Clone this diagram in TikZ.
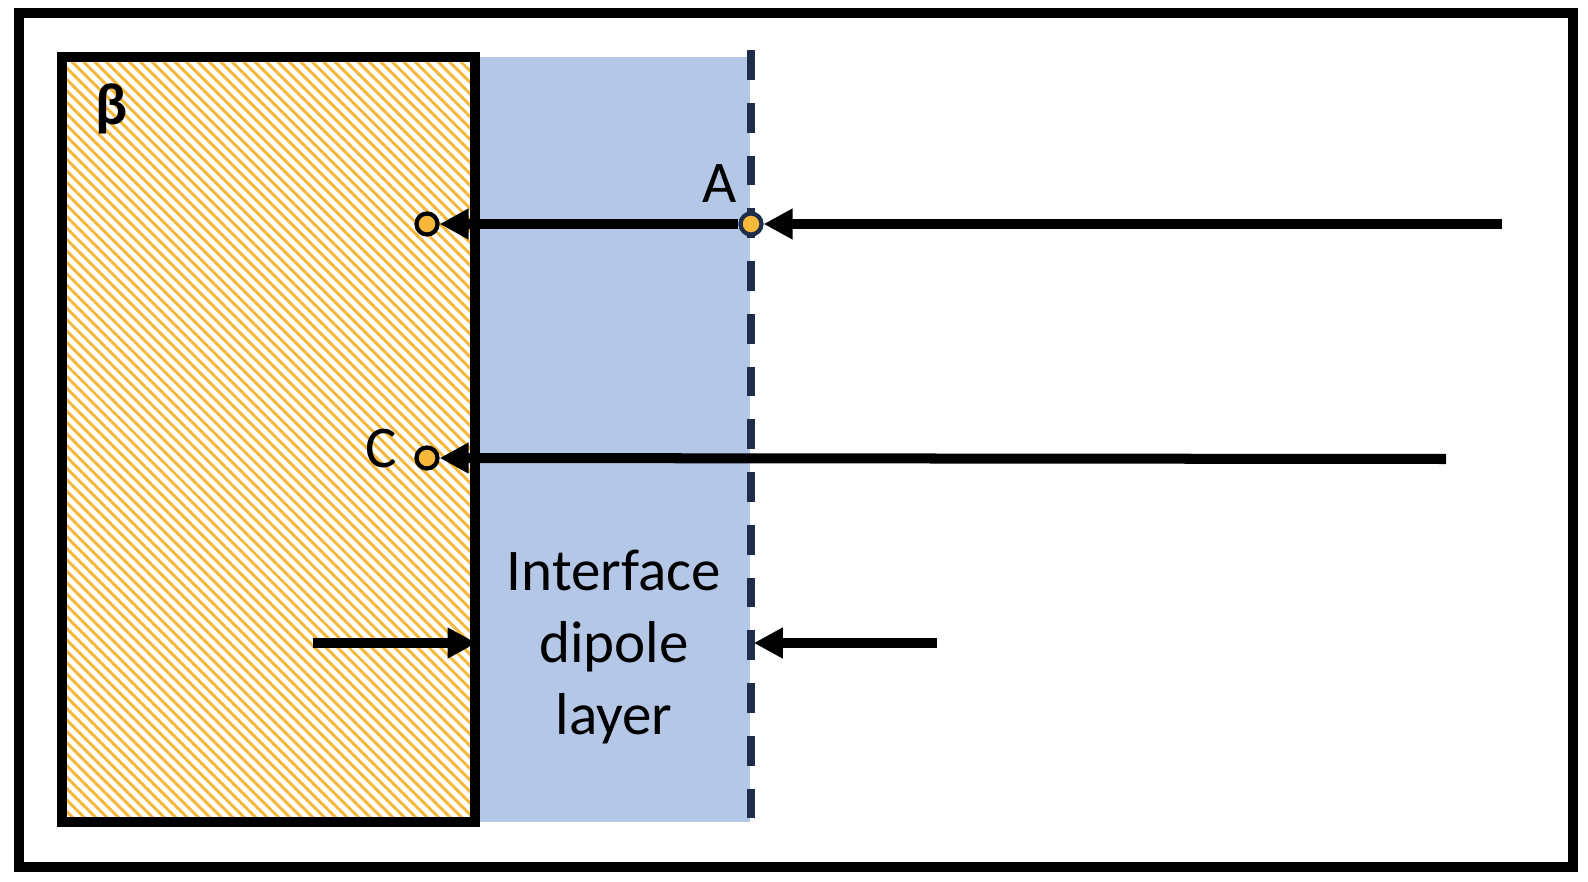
\documentclass[tikz,border=0pt]{standalone}
\usepackage{fontspec}
\setmainfont{Carlito}
\usetikzlibrary{positioning,arrows.meta,patterns.meta}
\definecolor{layerblue}{HTML}{B4C7E7}
\definecolor{hatchgold}{HTML}{F5B83A}
\definecolor{dashnavy}{HTML}{1F2D4A}

\begin{document}
\begin{tikzpicture}[x = .01cm, y = -.01cm,
    arr/.style = {line width = .1cm, -{Triangle[length = .29cm, width = .29cm]}},
    dot/.style = {circle, draw = black, fill = hatchgold, line width = 1.2pt, minimum size = .21cm, inner sep = 0pt},
    lbl/.style = {font = \fontsize{16.8}{20.5}\selectfont, inner sep = 0pt}]
    \useasboundingbox (0,0) rectangle (1588,882);
    \draw[line width = .1cm] (19,13) rectangle (1573,867);
    \node[fill = layerblue, minimum width = 2.75cm, minimum height = 7.65cm, inner sep = 0pt] (layer) at (612.5,439.5) {};
    \node[draw, line width = .1cm, pattern = {Lines[angle = -45, distance = 2.3pt, line width = .85pt]}, pattern color = hatchgold, minimum width = 4.13cm, minimum height = 7.65cm, inner sep = 0pt] (beta) at (268.5,439.5) {};
    \draw[dashnavy, line width = 2.3pt, dash pattern = on 8.5pt off 6.5pt] ([yshift = .06cm]layer.north east) -- (layer.south east);
    \node[lbl, align = center] (dipole) at (614,647) {Interface\\dipole\\layer};
    \node[lbl, font = \fontsize{16.8}{20.5}\selectfont\bfseries] (lbeta) at (112,109) {β};
    % points and arrows
    \node[dot, draw = dashnavy] (pA) at (751,224) {};
    \node[dot] (pAin) at (427,224) {};
    \node[dot] (pC) at (427,458) {};
    \node[lbl] (lA) at (720,184) {A};
    \node[lbl] (lC) at (381,449) {C};
    \coordinate (aStart) at (1502,224);
    \coordinate (cStart) at (1446,459);
    \coordinate (dLeft) at (313,643);
    \coordinate (dRight) at (937,643);
    \draw[arr] (aStart) -- (pA);
    \draw[arr] (pA) -- (pAin);
    \draw[arr] (cStart) -- (pC);
    \draw[arr] (dLeft) -- (beta.east |- dLeft);
    \draw[arr] (dRight) -- ([xshift = .03cm]layer.east |- dRight);
\end{tikzpicture}
\end{document}
